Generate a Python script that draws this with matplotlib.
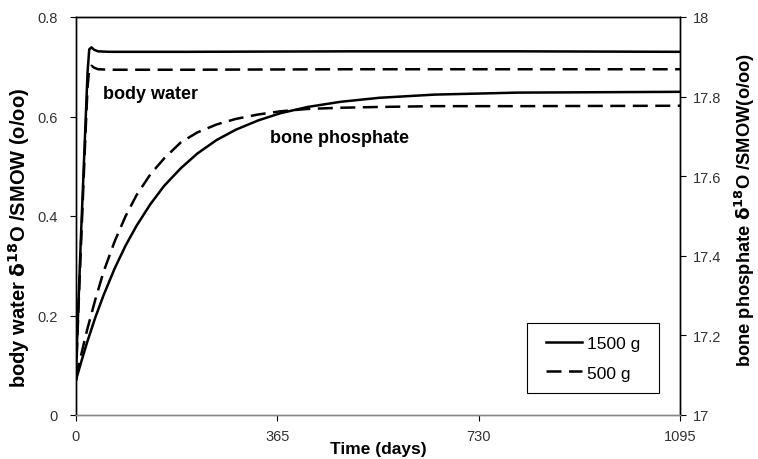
import matplotlib.pyplot as plt
from matplotlib.patches import Rectangle

plt.rcParams['font.family'] = ['Liberation Sans', 'DejaVu Sans']

# body water d18O (left axis)
bw_days = [0, 2, 5, 9, 13, 17, 21, 24, 28, 33, 40, 60, 200, 500, 800, 1095]
bw_1500 = [0.07, 0.15, 0.24, 0.36, 0.47, 0.58, 0.69, 0.735, 0.739, 0.734, 0.731, 0.730, 0.730, 0.731, 0.731, 0.730]
bw_500 = [0.07, 0.14, 0.23, 0.34, 0.45, 0.56, 0.66, 0.695, 0.702, 0.698, 0.695, 0.694, 0.694, 0.695, 0.695, 0.695]

# bone phosphate d18O (right axis)
bp_days = [0, 10, 20, 35, 50, 70, 90, 110, 135, 160, 190, 220, 255, 290, 330, 370, 420, 480, 550, 650, 800, 1095]
bp_1500 = [17.088, 17.136, 17.182, 17.245, 17.301, 17.368, 17.426, 17.476, 17.530, 17.576, 17.620, 17.657,
           17.691, 17.717, 17.740, 17.758, 17.774, 17.787, 17.797, 17.805, 17.810, 17.812]
bp_500 = [17.094, 17.155, 17.213, 17.290, 17.360, 17.436, 17.500, 17.553, 17.605, 17.645, 17.685, 17.710,
          17.730, 17.744, 17.755, 17.763, 17.769, 17.772, 17.774, 17.776, 17.776, 17.777]

x_ticks = [0, 365, 730, 1095]

fig = plt.figure(figsize=(7.58, 4.6), dpi=100)
ax = fig.add_axes([76 / 758, 44 / 460, 604 / 758, 398 / 460])
ax2 = ax.twinx()

lw = 1.8
dash = (6, 3)
ax.plot(bw_days, bw_1500, color='black', lw=lw)
ax.plot(bw_days, bw_500, color='black', lw=lw, dashes=dash)
l1, = ax2.plot(bp_days, bp_1500, color='black', lw=lw, label='1500 g')
l2, = ax2.plot(bp_days, bp_500, color='black', lw=lw, dashes=dash, label='500 g')

ax.set_xlim(0, 1095)
ax.set_ylim(0, 0.8)
ax2.set_ylim(17, 18)
ax.set_xticks(x_ticks)
ax.set_xticklabels([str(t) for t in x_ticks])
ax.set_yticks([0, 0.2, 0.4, 0.6, 0.8])
ax.set_yticklabels(['0', '0.2', '0.4', '0.6', '0.8'])
ax2.set_yticks([17, 17.2, 17.4, 17.6, 17.8, 18])
ax2.set_yticklabels(['17', '17.2', '17.4', '17.6', '17.8', '18'])

for a in (ax, ax2):
    a.tick_params(direction='out', length=4, width=0.8, labelsize=10.5, labelcolor='#333333', color='black')
    for s in a.spines.values():
        s.set_linewidth(1.0)
    a.spines['bottom'].set_color('#888888')
ax.tick_params(axis='y', pad=9)
ax.tick_params(axis='x', pad=6)
ax2.tick_params(axis='y', pad=5)

ax.set_xlabel('Time (days)', fontsize=12.5, fontweight='bold', labelpad=-1)
ax.set_ylabel(r'body water $\mathbf{\delta^{18}}$O /SMOW (o/oo)', fontsize=14.5, fontweight='bold')
ax2.set_ylabel(r'bone phosphate $\mathbf{\delta^{18}}$O /SMOW(o/oo)', fontsize=13.2, fontweight='bold')
ax.yaxis.set_label_coords(-0.073, 0.447)
ax2.yaxis.set_label_coords(1.088, 0.518)

ax.text(49, 0.637, 'body water', fontsize=13, fontweight='bold', va='baseline')
ax.text(352, 0.549, 'bone phosphate', fontsize=13, fontweight='bold', va='baseline')

leg = ax2.legend(handles=[l1, l2], loc='center', bbox_to_anchor=(593 / 758, 101 / 460),
                 bbox_transform=fig.transFigure, fontsize=12.5, frameon=False,
                 handlelength=2.1, handletextpad=0.3, borderpad=0, labelspacing=0.85)
fig.patches.append(Rectangle((527 / 758, 66 / 460), 132 / 758, 70 / 460, transform=fig.transFigure,
                             fill=False, edgecolor='black', lw=0.8))

fig.savefig('out.png', dpi=100)
